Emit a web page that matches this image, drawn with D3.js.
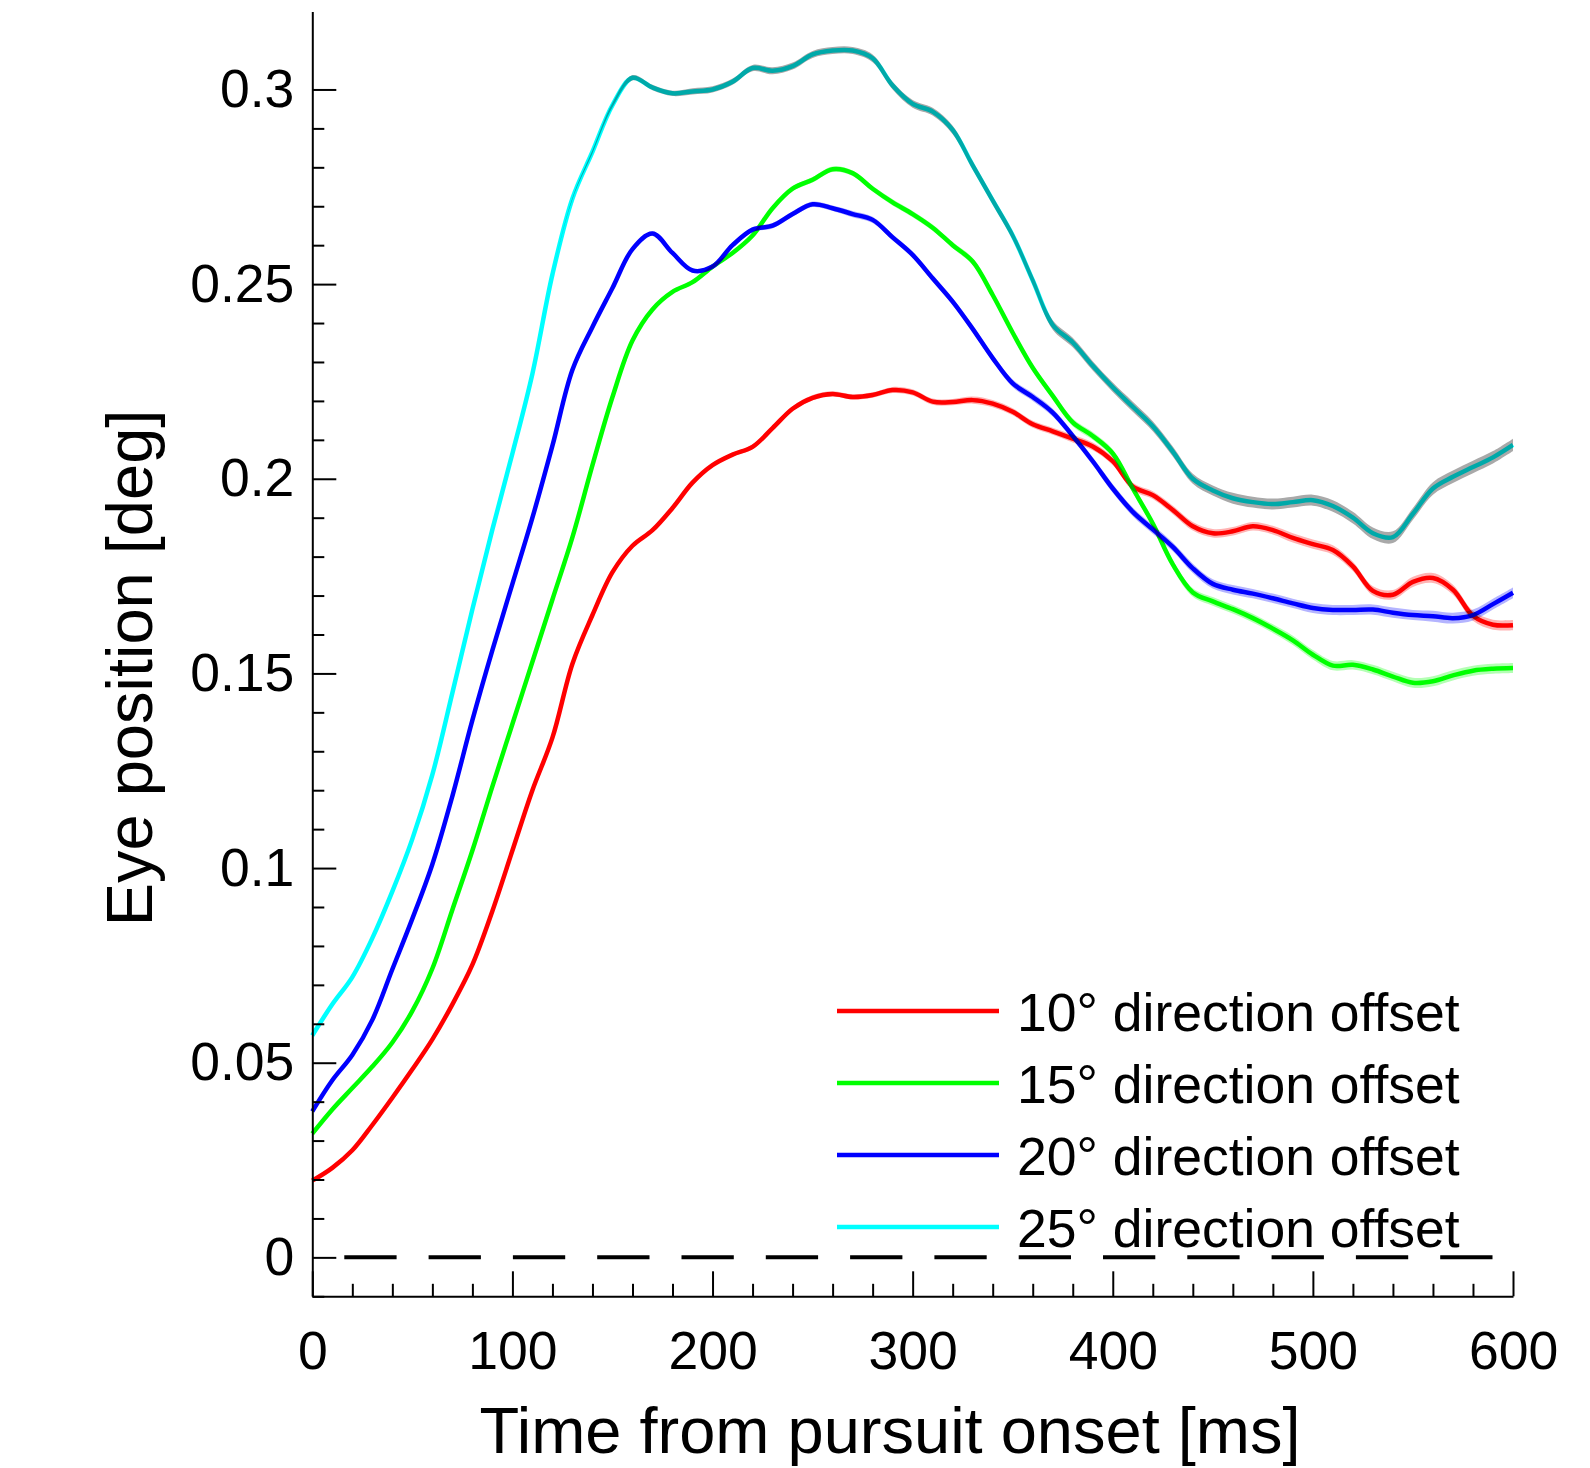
<!DOCTYPE html>
<html>
<head>
<meta charset="utf-8">
<script src="https://cdn.jsdelivr.net/npm/d3@7"></script>
<style>
  body { margin: 0; background: white; }
  text { font-family: "Liberation Sans", Arial, Helvetica, sans-serif; fill: black; }
</style>
</head>
<body>
<div id="plot"></div>
<script>
// eye position traces, sampled every 10 ms

const times = [0,10,20,30,40,50,60,70,80,90,100,110,120,130,140,150,160,170,180,190,
  200,210,220,230,240,250,260,270,280,290,300,310,320,330,340,350,360,370,380,390,
  400,410,420,430,440,450,460,470,480,490,500,510,520,530,540,550,560,570,580,590,600];

const offset10 = [0.0197,0.023,0.0275,0.034,0.041,0.0483,0.056,0.065,0.0752,0.089,
  0.1045,0.120,0.1335,0.1525,0.165,0.176,0.1828,0.1868,0.1925,0.199,
  0.2035,0.2062,0.2082,0.213,0.218,0.2208,0.2218,0.221,0.2215,0.2228,
  0.2222,0.2198,0.2197,0.2202,0.2193,0.2172,0.214,0.2122,0.2103,0.2083,
  0.2045,0.198,0.1958,0.192,0.1878,0.186,0.1865,0.1878,0.1868,0.1848,
  0.1832,0.1817,0.1775,0.1712,0.1702,0.1735,0.1745,0.1715,0.1648,0.1625,0.1624];

const offset15 = [0.0318,0.038,0.0435,0.049,0.0552,0.0633,0.0742,0.0893,0.1045,0.121,
  0.137,0.153,0.169,0.185,0.2035,0.221,0.2355,0.2435,0.248,0.2505,
  0.2545,0.258,0.2625,0.2695,0.2745,0.2768,0.2795,0.2785,0.2745,0.271,
  0.268,0.2645,0.260,0.2558,0.2472,0.2375,0.2285,0.2213,0.2145,0.211,
  0.2065,0.1975,0.1885,0.178,0.1708,0.1685,0.1665,0.1642,0.1615,0.1585,
  0.1548,0.152,0.1522,0.151,0.1492,0.1476,0.148,0.1495,0.1507,0.1512,0.1514];

const offset20 = [0.0375,0.0455,0.052,0.061,0.074,0.087,0.101,0.1185,0.138,0.156,
  0.173,0.190,0.2085,0.228,0.239,0.249,0.259,0.263,0.258,0.2535,
  0.2545,0.260,0.264,0.265,0.268,0.2705,0.2695,0.268,0.2665,0.262,
  0.2575,0.2515,0.2455,0.2385,0.231,0.2245,0.221,0.217,0.211,0.2045,
  0.1975,0.1915,0.187,0.1825,0.177,0.173,0.1715,0.1705,0.1693,0.168,
  0.1668,0.1663,0.1663,0.1664,0.1656,0.165,0.1647,0.1642,0.165,0.1678,0.1707];

const offset25 = [0.057,0.065,0.072,0.082,0.094,0.1075,0.124,0.145,0.1665,0.187,
  0.2065,0.227,0.2525,0.272,0.284,0.296,0.303,0.3005,0.299,0.2995,
  0.300,0.302,0.3055,0.3048,0.306,0.309,0.310,0.310,0.308,0.301,
  0.2963,0.2943,0.2896,0.2805,0.2715,0.2625,0.251,0.2395,0.235,0.229,
  0.2235,0.2185,0.2135,0.207,0.200,0.197,0.195,0.194,0.1935,0.194,
  0.1945,0.193,0.190,0.186,0.185,0.191,0.1975,0.2005,0.203,0.2055,0.2087];

// standard error half-widths
const se10 = [0,0,0,0,0,0,0,0,0,0, 0.0001,0.0002,0.0003,0.0003,0.0003,0.0004,0.0004,0.0004,0.0005,0.0005,
  0.0005,0.0005,0.0006,0.0006,0.0006,0.0007,0.0007,0.0007,0.0007,0.0008,
  0.0008,0.0008,0.0008,0.0009,0.0009,0.0009,0.0009,0.0009,0.001,0.001,
  0.001,0.001,0.001,0.0011,0.0011,0.0011,0.0011,0.0011,0.0011,0.0012,
  0.0012,0.0012,0.0012,0.0012,0.0012,0.0013,0.0013,0.0013,0.0013,0.0013,0.0013];
const se15 = [0,0,0,0,0,0,0,0,0,0, 0.0001,0.0002,0.0003,0.0003,0.0003,0.0004,0.0004,0.0004,0.0005,0.0005,
  0.0005,0.0005,0.0006,0.0006,0.0006,0.0007,0.0007,0.0007,0.0007,0.0008,
  0.0008,0.0008,0.0008,0.0009,0.0009,0.0009,0.0009,0.0009,0.001,0.001,
  0.001,0.001,0.001,0.0011,0.0011,0.0011,0.0011,0.0011,0.0011,0.0012,
  0.0012,0.0012,0.0012,0.0012,0.0012,0.0013,0.0013,0.0013,0.0013,0.0013,0.0013];
const se20 = [0,0,0,0,0,0,0,0,0,0, 0.0001,0.0002,0.0003,0.0003,0.0004,0.0004,0.0004,0.0005,0.0005,0.0005,
  0.0006,0.0006,0.0006,0.0007,0.0007,0.0007,0.0007,0.0008,0.0008,0.0008,
  0.0008,0.0009,0.0009,0.0009,0.0009,0.001,0.001,0.001,0.001,0.001,
  0.0011,0.0011,0.0011,0.0011,0.0012,0.0012,0.0012,0.0012,0.0012,0.0012,
  0.0013,0.0013,0.0013,0.0013,0.0013,0.0013,0.0014,0.0014,0.0014,0.0014,0.0014];
const se25 = [0,0,0,0,0,0,0,0,0,0, 0,0,0,0.0002,0.0004,0.0006,0.0007,0.0007,0.0007,0.0008,
  0.0008,0.0008,0.0008,0.0009,0.0009,0.0009,0.0009,0.0009,0.001,0.001,
  0.001,0.001,0.0011,0.0011,0.0011,0.0011,0.0012,0.0012,0.0012,0.0012,
  0.0012,0.0013,0.0013,0.0013,0.0013,0.0013,0.0014,0.0014,0.0014,0.0014,
  0.0014,0.0015,0.0015,0.0015,0.0015,0.0015,0.0016,0.0016,0.0016,0.0016,0.0016];

const legendLabels = ["10° direction offset", "15° direction offset",
  "20° direction offset", "25° direction offset"];
const lineColors = ["#ff0000", "#00ff00", "#0000ff", "#00ffff"];
const bandColors = ["#ffb4b4", "#b4ffb4", "#b4b4ff", "#a9a9a9"];

const xMajor = [0, 100, 200, 300, 400, 500, 600];
const xMinor = [20,40,60,80,120,140,160,180,220,240,260,280,320,340,360,380,420,440,460,480,520,540,560,580];
const yMajor = [0, 0.05, 0.1, 0.15, 0.2, 0.25, 0.3];
const yTickLabels = ["0", "0.05", "0.1", "0.15", "0.2", "0.25", "0.3"];
const yMinor = [-0.01,0.01,0.02,0.03,0.04,0.06,0.07,0.08,0.09,0.11,0.12,0.13,0.14,0.16,0.17,0.18,0.19,
  0.21,0.22,0.23,0.24,0.26,0.27,0.28,0.29];

const w = 1590;
const h = 1468;

const svg = d3.select("div#plot")
  .append("svg")
  .attr("width", w)
  .attr("height", h);

svg.append("rect")
  .attr("width", w)
  .attr("height", h)
  .attr("fill", "white");

const xScale = d3.scaleLinear().domain([0, 600]).range([312.3, 1513]);
const yScale = d3.scaleLinear().domain([-0.01, 0.32]).range([1296.3, 11.6]);

const series = [offset10, offset15, offset20, offset25];
const ses = [se10, se15, se20, se25];

// zero reference line
svg.append("line")
  .attr("x1", xScale(0))
  .attr("x2", xScale(600))
  .attr("y1", yScale(0))
  .attr("y2", yScale(0))
  .attr("stroke", "black")
  .attr("stroke-width", 4)
  .attr("stroke-dasharray", "52.3,32")
  .attr("stroke-dashoffset", -32);

const line = d3.line()
  .x((d, i) => xScale(times[i]))
  .y(d => yScale(d))
  .curve(d3.curveCatmullRom.alpha(0.5));

series.forEach((s, k) => {
  svg.append("path")
    .attr("d", line(s))
    .attr("fill", "none")
    .attr("stroke", lineColors[k])
    .attr("stroke-width", 4.5)
    .attr("stroke-linejoin", "round");
});

// SE bands multiplied over the lines
series.forEach((s, k) => {
  const area = d3.area()
    .x((d, i) => xScale(times[i]))
    .y0((d, i) => yScale(d - ses[k][i]))
    .y1((d, i) => yScale(d + ses[k][i]))
    .curve(d3.curveCatmullRom.alpha(0.5));
  svg.append("path")
    .attr("d", area(s))
    .attr("fill", bandColors[k])
    .style("mix-blend-mode", "multiply");
});

// axes
svg.append("g")
  .attr("transform", `translate(${xScale(0)},0)`)
  .call(d3.axisLeft(yScale)
    .tickValues(yMajor)
    .tickFormat((d, i) => yTickLabels[i])
    .tickSizeInner(-24)
    .tickSizeOuter(0)
    .tickPadding(18));

svg.append("g")
  .attr("transform", `translate(${xScale(0)},0)`)
  .call(d3.axisLeft(yScale)
    .tickValues(yMinor)
    .tickFormat("")
    .tickSizeInner(-12)
    .tickSizeOuter(0))
  .call(g => g.select(".domain").remove());

svg.append("g")
  .attr("transform", `translate(0,${yScale(-0.01)})`)
  .call(d3.axisBottom(xScale)
    .tickValues(xMajor)
    .tickSizeInner(-25)
    .tickSizeOuter(0)
    .tickPadding(35));

svg.append("g")
  .attr("transform", `translate(0,${yScale(-0.01)})`)
  .call(d3.axisBottom(xScale)
    .tickValues(xMinor)
    .tickFormat("")
    .tickSizeInner(-12.5)
    .tickSizeOuter(0))
  .call(g => g.select(".domain").remove());

svg.selectAll(".tick line, .domain")
  .attr("stroke", "black")
  .attr("stroke-width", 2);

svg.selectAll(".tick text")
  .attr("font-family", "Liberation Sans, Arial, sans-serif")
  .attr("font-size", 53.5)
  .attr("fill", "black");

// axis titles
svg.append("text")
  .attr("x", 890)
  .attr("y", 1453)
  .attr("text-anchor", "middle")
  .attr("font-size", 65)
  .text("Time from pursuit onset [ms]");

svg.append("text")
  .attr("transform", "translate(152,668) rotate(-90)")
  .attr("text-anchor", "middle")
  .attr("font-size", 65)
  .text("Eye position [deg]");

// legend
const legend = svg.append("g");
legendLabels.forEach((label, k) => {
  const ly = 1011 + k * 72;
  legend.append("line")
    .attr("x1", 837)
    .attr("x2", 999)
    .attr("y1", ly)
    .attr("y2", ly)
    .attr("stroke", lineColors[k])
    .attr("stroke-width", 4.5);
  legend.append("text")
    .attr("x", 1017)
    .attr("y", ly + 19.5)
    .attr("font-size", 53.5)
    .text(label);
});
</script>
</body>
</html>
